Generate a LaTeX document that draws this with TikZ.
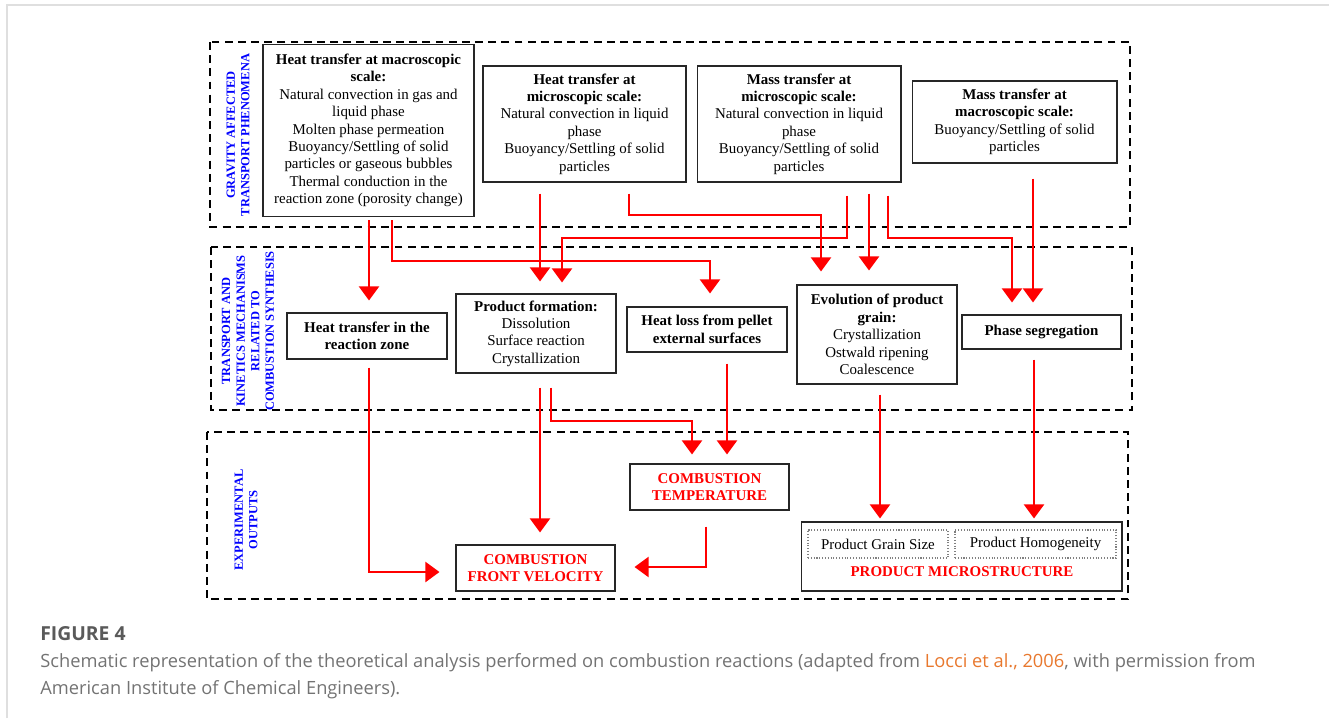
\documentclass[tikz,border=0pt]{standalone}
\usepackage{fontspec}
\setmainfont{Liberation Serif}
\newfontfamily\capfont{Open Sans}
\usetikzlibrary{arrows.meta}
\definecolor{linkorange}{HTML}{E8782E}
\definecolor{capgray}{HTML}{5A5A5A}

\begin{document}
\begin{tikzpicture}[x={(0.02cm,0)},y={(0,-0.02cm)},
    every node/.style={font=\fontsize{8.5}{9.9}\selectfont},
    box/.style={draw=black!85,line width=0.6pt,align=center,inner sep=0pt},
    outbox/.style={box,text=red,font=\fontsize{8.5}{9.9}\selectfont\bfseries},
    subbox/.style={draw=gray,densely dotted,line width=0.6pt,inner sep=0pt},
    band/.style={draw,line width=1.1pt,dash pattern=on 4.5pt off 3pt},
    side/.style={rotate=90,text=blue,align=center,font=\fontsize{7.1}{8.3}\selectfont\bfseries},
    arr/.style={red,line width=1.5pt,-{Triangle[length=8pt,width=11.3pt]},
                shorten <=0.22cm,shorten >=0.24cm}]
  \useasboundingbox (0,0) rectangle (1329,718);
  \draw[gray!25,line width=0.6pt] (7,718) -- (7,5) -- (1329,5);

  % dashed bands
  \draw[band] (210,42) rectangle (1130,227);
  \draw[band] (211,247) rectangle (1132,410);
  \draw[band] (207,432) rectangle (1128,599);
  \node[side] (lblgrav) at (238,135) {GRAVITY AFFECTED\\TRANSPORT PHENOMENA};
  \node[side] (lbltrans) at (248,331) {TRANSPORT AND\\KINETICS MECHANISMS\\RELATED TO\\COMBUSTION SYNTHESIS};
  \node[side] (lblexp) at (246,520) {EXPERIMENTAL\\OUTPUTS};

  % gravity affected phenomena
  \node[box,minimum width=4.22cm,minimum height=3.44cm] (htmacro) at (368.5,130.5)
    {\textbf{Heat transfer at macroscopic}\\\textbf{scale:}\\Natural convection in gas and\\liquid phase\\Molten phase permeation\\Buoyancy/Settling of solid\\particles or gaseous bubbles\\Thermal conduction in the\\reaction zone (porosity change)};
  \node[box,minimum width=4.06cm,minimum height=2.32cm] (htmicro) at (584.5,124)
    {\textbf{Heat transfer at}\\\textbf{microscopic scale:}\\Natural convection in liquid\\phase\\Buoyancy/Settling of solid\\particles};
  \node[box,minimum width=4.08cm,minimum height=2.32cm] (mtmicro) at (799,124)
    {\textbf{Mass transfer at}\\\textbf{microscopic scale:}\\Natural convection in liquid\\phase\\Buoyancy/Settling of solid\\particles};
  \node[box,minimum width=4.10cm,minimum height=1.64cm] (mtmacro) at (1014.5,122)
    {\textbf{Mass transfer at}\\\textbf{macroscopic scale:}\\Buoyancy/Settling of solid\\particles};

  % mechanisms
  \node[box,minimum width=3.2cm,minimum height=0.92cm] (htzone) at (367,336)
    {\textbf{Heat transfer in the}\\\textbf{reaction zone}};
  \node[box,minimum width=3.2cm,minimum height=1.58cm] (prodform) at (536,333.5)
    {\textbf{Product formation:}\\Dissolution\\Surface reaction\\Crystallization};
  \node[box,minimum width=3.2cm,minimum height=0.9cm] (heatloss) at (707,329.5)
    {\textbf{Heat loss from pellet}\\\textbf{external surfaces}};
  \node[box,minimum width=3.2cm,minimum height=1.98cm] (evolution) at (877,334.5)
    {\textbf{Evolution of product}\\\textbf{grain:}\\Crystallization\\Ostwald ripening\\Coalescence};
  \node[box,minimum width=3.18cm,minimum height=0.68cm] (phaseseg) at (1041.5,332)
    {\textbf{Phase segregation}};

  % outputs
  \node[outbox,minimum width=3.18cm,minimum height=0.92cm] (combtemp) at (709.5,487)
    {COMBUSTION\\TEMPERATURE};
  \node[outbox,minimum width=3.18cm,minimum height=0.92cm] (combfront) at (535.5,568)
    {COMBUSTION\\FRONT VELOCITY};
  \node[box,minimum width=6.42cm,minimum height=1.38cm] (micro) at (961.5,556.5) {};
  \node[subbox,minimum width=2.8cm,minimum height=0.56cm] (grainsize) at (878,544) {Product Grain Size};
  \node[subbox,minimum width=3.22cm,minimum height=0.56cm] (homog) at (1035.5,544) {Product Homogeneity};
  \node[text=red,font=\fontsize{8.5}{9.9}\selectfont\bfseries] (microlbl) at (962,572) {PRODUCT MICROSTRUCTURE};

  % top band to middle band
  \draw[arr,shorten <=0.06cm] (369,0 |- htmacro.south) -- (369,0 |- htzone.north);
  \draw[arr,shorten <=0.06cm,shorten >=0.26cm] (392,0 |- htmacro.south) -- (392,261) -| (710,0 |- heatloss.north);
  \draw[arr] (540,0 |- htmicro.south) -- (540,0 |- prodform.north);
  \draw[arr,shorten >=0.26cm] (629,0 |- htmicro.south) -- (629,215) -| (821,0 |- evolution.north);
  \draw[arr,shorten <=0.26cm,shorten >=0.22cm] (847,0 |- mtmicro.south) -- (847,238) -| (562,0 |- prodform.north);
  \draw[arr,shorten >=0.28cm] (869,0 |- mtmicro.south) -- (869,0 |- evolution.north);
  \draw[arr,shorten <=0.26cm] (888,0 |- mtmicro.south) -- (888,238) -| (1012,0 |- phaseseg.north);
  \draw[arr,shorten <=0.3cm] (1033,0 |- mtmacro.south) -- (1033,0 |- phaseseg.north);

  % middle band to outputs
  \draw[arr,shorten <=0.16cm,shorten >=0.32cm] (369,0 |- htzone.south) -- (369,572) -- (combfront.west |- 0,572);
  \draw[arr,shorten <=0.28cm] (540,0 |- prodform.south) -- (540,0 |- combfront.north);
  \draw[arr,shorten <=0.28cm,shorten >=0.18cm] (551,0 |- prodform.south) -- (551,421) -| (692,0 |- combtemp.north);
  \draw[arr,shorten >=0.18cm] (727,0 |- heatloss.south) -- (727,0 |- combtemp.north);
  \draw[arr,shorten <=0.32cm,shorten >=0.38cm] (706,0 |- combtemp.south) -- (706,567) -- (combfront.east |- 0,567);
  \draw[arr,shorten <=0.2cm,shorten >=0.06cm] (880,0 |- evolution.south) -- (880,0 |- micro.north);
  \draw[arr,shorten <=0.2cm,shorten >=0.06cm] (1034,0 |- phaseseg.south) -- (1034,0 |- micro.north);

  % caption
  \node[anchor=base west,inner sep=0pt,text=capgray,font=\capfont\fontsize{11}{12}\selectfont\bfseries] (figlabel) at (40,640) {FIGURE 4};
  \node[anchor=base west,inner sep=0pt,text=capgray!85,font=\capfont\fontsize{10.4}{12}\selectfont] (caption1) at (40,667)
    {Schematic representation of the theoretical analysis performed on combustion reactions (adapted from \textcolor{linkorange}{Locci et al., 2006}, with permission from};
  \node[anchor=base west,inner sep=0pt,text=capgray!85,font=\capfont\fontsize{10.4}{12}\selectfont] (caption2) at (40,694)
    {American Institute of Chemical Engineers).};
\end{tikzpicture}
\end{document}
